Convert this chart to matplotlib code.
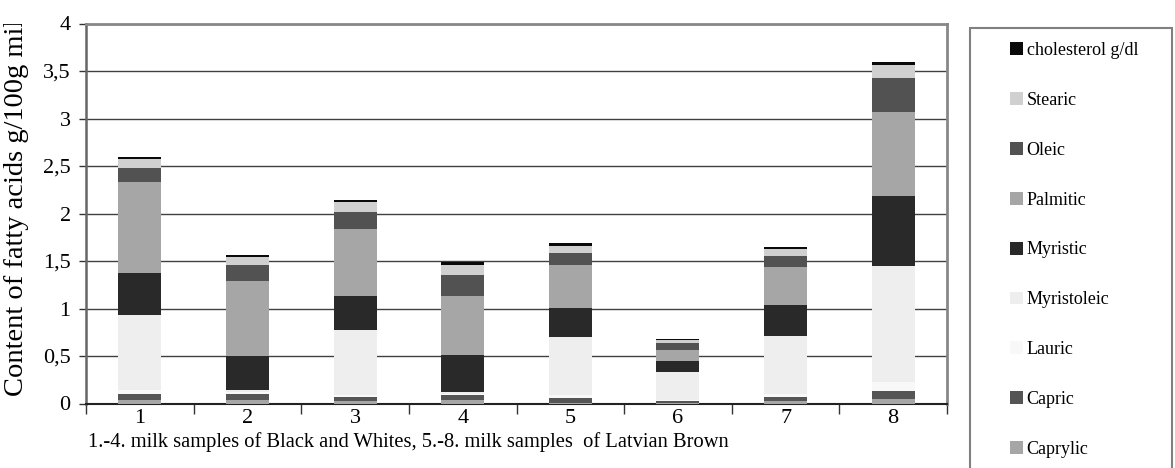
import numpy as np
import matplotlib
matplotlib.use("Agg")
import matplotlib.pyplot as plt
from matplotlib.patches import Patch, Rectangle
from matplotlib.transforms import Bbox, TransformedBbox

plt.rcParams["font.family"] = ["Liberation Serif", "DejaVu Serif"]

samples = ["1", "2", "3", "4", "5", "6", "7", "8"]

# stacked from the bottom up
caprylic    = [0.037, 0.037, 0.026, 0.037, 0.010, 0.005, 0.026, 0.047]
capric      = [0.063, 0.063, 0.042, 0.053, 0.048, 0.020, 0.042, 0.083]
lauric      = [0.040, 0.020, 0.022, 0.015, 0.032, 0.015, 0.032, 0.096]
myristoleic = [0.790, 0.020, 0.680, 0.015, 0.610, 0.290, 0.610, 1.224]
myristic    = [0.440, 0.360, 0.360, 0.390, 0.305, 0.120, 0.330, 0.730]
palmitic    = [0.960, 0.790, 0.710, 0.620, 0.455, 0.110, 0.400, 0.890]
oleic       = [0.150, 0.170, 0.180, 0.220, 0.120, 0.080, 0.110, 0.360]
stearic     = [0.090, 0.085, 0.100, 0.110, 0.080, 0.030, 0.080, 0.130]
cholesterol = [0.025, 0.015, 0.020, 0.030, 0.030, 0.010, 0.020, 0.035]

series = [
    ("Caprylic", caprylic, "#a6a6a6"),
    ("Capric", capric, "#555555"),
    ("Lauric", lauric, "#f8f8f8"),
    ("Myristoleic", myristoleic, "#eeeeee"),
    ("Myristic", myristic, "#292929"),
    ("Palmitic", palmitic, "#a6a6a6"),
    ("Oleic", oleic, "#525252"),
    ("Stearic", stearic, "#d0d0d0"),
    ("cholesterol g/dl", cholesterol, "#0a0a0a"),
]

W, H = 1175, 468
fig = plt.figure(figsize=(W / 100, H / 100), dpi=100)
ax = fig.add_axes([86 / W, 1 - 403.5 / H, (947 - 86) / W, (403.5 - 23.5) / H])

x = np.arange(1, len(samples) + 1)
bottom = np.zeros(len(samples))
handles = []
for name, vals, col in series:
    ax.bar(x, vals, width=0.4, bottom=bottom, color=col, edgecolor="none", zorder=3)
    bottom += np.array(vals)
    handles.append(Patch(facecolor=col, edgecolor="none", label=name))

ax.set_xlim(0.5, 8.5)
ax.set_ylim(0, 4)
ax.set_yticks(np.arange(0, 4.01, 0.5))
ax.set_yticklabels(["0", "0,5", "1", "1,5", "2", "2,5", "3", "3,5", "4"], fontsize=16)
ax.yaxis.grid(True, color="#404040", lw=1.0, zorder=1)

# category ticks sit between the bars, labels under the bar centres
ax.set_xticks(np.arange(0.5, 9.0, 1.0))
ax.set_xticklabels([])
ax.set_xticks(x, minor=True)
ax.set_xticklabels(samples, minor=True, fontsize=16)
ax.tick_params(axis="x", which="major", direction="out", length=7, width=1, color="#333333")
ax.tick_params(axis="x", which="minor", length=0, pad=4)
ax.tick_params(axis="y", direction="out", length=5, width=1, pad=6, color="#333333")

for side in ("top", "right"):
    ax.spines[side].set_color("#888888")
    ax.spines[side].set_linewidth(2)
ax.spines["left"].set_color("#666666")
ax.spines["left"].set_linewidth(1.8)
ax.spines["bottom"].set_color("#222222")
ax.spines["bottom"].set_linewidth(1.5)

fig.text(88 / W, 1 - 442 / H, "1.-4. milk samples of Black and Whites, 5.-8. milk samples  of Latvian Brown",
         ha="left", va="center", fontsize=14.8)

ylab = fig.text(17 / W, 1 - 396 / H, "Content of fatty acids g/100g milk", rotation=90,
                ha="center", va="bottom", fontsize=20.5)
ylab.set_clip_box(TransformedBbox(Bbox([[0, 0], [0.07, 1 - 24 / H]]), fig.transFigure))
ylab.set_clip_on(True)

# legend box runs off the bottom edge
fig.patches.append(Rectangle((970 / W, 1 - 490 / H), (1172 - 970) / W, (490 - 28) / H,
                             transform=fig.transFigure, facecolor="white",
                             edgecolor="#808080", lw=1.5))
fig.legend(handles=handles[::-1], loc="upper left", bbox_to_anchor=(1010 / W, 1 - 42 / H),
           frameon=False, fontsize=13, handlelength=0.72, handleheight=0.72,
           handletextpad=0.2, labelspacing=1.82, borderaxespad=0, borderpad=0)

fig.savefig("out.png", dpi=100)
